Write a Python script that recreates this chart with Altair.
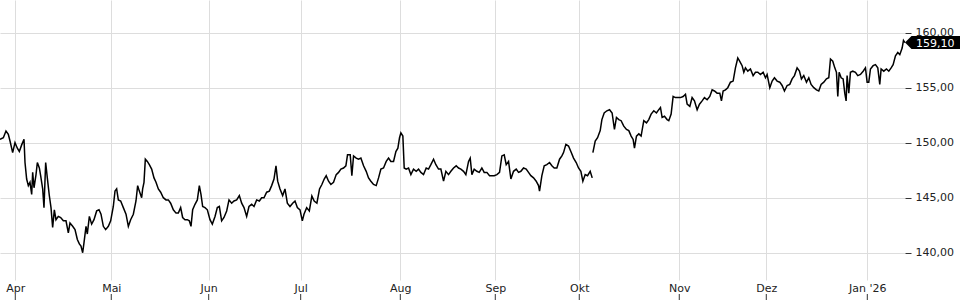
import altair as alt
import pandas as pd

# trading-session index (days since start) and price
t_vals = [
    0.0, 0.77, 1.38, 1.92, 2.31, 2.92, 3.46, 4.0, 4.46, 5.0, 5.54, 5.77, 6.15, 6.54, 6.92, 7.31, 7.54, 7.85,
    8.31, 8.62, 9.08, 9.38, 9.85, 10.15, 10.54, 10.92, 11.38, 11.77, 12.15, 12.54, 12.92, 13.46, 14.0, 14.62,
    15.23, 15.77, 16.15, 16.77, 17.31, 17.85, 18.31, 18.69, 19.08, 19.38, 19.85, 20.15, 20.62, 21.15, 21.69,
    22.31, 22.85, 23.31, 23.85, 24.38, 25.0, 25.54, 26.15, 26.54, 26.92, 27.31, 27.85, 28.46, 29.08, 29.62,
    30.15, 30.77, 31.38, 31.77, 32.15, 32.69, 32.92, 33.23, 33.54, 34.0, 34.46, 35.0, 35.54, 36.0, 36.54,
    37.08, 37.69, 38.31, 38.85, 39.38, 40.0, 40.62, 41.15, 41.69, 42.15, 42.69, 43.23, 43.69, 44.08, 44.46,
    45.0, 45.54, 46.0, 46.38, 46.77, 47.31, 47.85, 48.46, 49.0, 49.62, 50.15, 50.62, 51.15, 51.69, 52.31,
    52.85, 53.46, 54.0, 54.62, 55.23, 55.77, 56.31, 56.92, 57.46, 58.08, 58.62, 59.23, 59.85, 60.38, 60.92,
    61.54, 62.15, 62.69, 63.23, 63.69, 64.08, 64.62, 65.23, 65.77, 66.31, 66.92, 67.54, 68.08, 68.62, 69.23,
    69.77, 70.15, 70.77, 71.38,
    71.97, 72.51, 73.13, 73.74, 74.28, 74.82, 75.28, 75.82, 76.36, 76.97, 77.59, 78.13, 78.67, 79.28, 79.82,
    80.2, 80.82, 81.2, 81.59, 82.2, 82.74, 83.28, 83.9, 84.51, 85.05, 85.59, 86.2, 86.82, 87.36, 87.9, 88.51,
    89.13, 89.67, 90.2, 90.82, 91.36, 91.82, 92.2, 92.51, 92.97, 93.28, 93.74, 94.28, 94.82, 95.43, 96.05,
    96.59, 97.13, 97.74, 98.36, 98.9, 99.43, 100.05, 100.59, 101.2, 101.74, 102.36, 102.9, 103.51, 104.05,
    104.67, 105.28, 105.82, 106.36, 106.97, 107.51, 108.13, 108.51, 108.9, 109.43, 110.05, 110.59, 111.2,
    111.74, 112.36, 112.97, 113.51, 114.05, 114.67, 115.28, 115.82, 116.36, 116.82, 117.36, 117.9, 118.51,
    119.13, 119.67, 120.2, 120.82, 121.43, 121.97, 122.51, 123.13, 123.74, 124.28, 124.51, 125.05, 125.59,
    126.2, 126.82, 127.36, 127.9, 128.51, 129.13, 129.67, 130.05, 130.59, 131.2, 131.74, 132.36, 132.97,
    133.51, 134.05, 134.51, 135.05, 135.59, 136.2, 136.67,
    136.82, 137.36, 137.9, 138.51, 138.9, 139.43, 140.05, 140.67,
    141.26, 141.8, 142.26, 142.8, 143.34, 143.95, 144.57, 145.11, 145.65, 146.11, 146.42, 146.88, 147.42,
    147.95, 148.57, 149.19, 149.72, 150.26, 150.88, 151.49, 152.03, 152.42, 152.8, 153.34, 153.95, 154.34,
    154.88, 155.34, 155.88, 156.42, 157.03, 157.65, 158.19, 158.57, 159.19, 159.72, 160.26, 160.88, 161.42,
    162.03, 162.57, 163.19, 163.8, 164.34, 164.88, 165.49, 166.11, 166.49, 166.88, 167.42, 167.95, 168.57,
    169.19, 169.72, 170.26, 170.72, 171.26, 171.65, 172.03, 172.57, 173.18, 173.8, 174.34, 174.88, 175.49,
    176.11, 176.65, 177.03, 177.65, 178.19, 178.72, 179.34, 179.95, 180.49, 181.03, 181.65, 182.26, 182.8,
    183.34, 183.95, 184.49, 184.95, 185.49, 186.11, 186.65, 187.18, 187.8, 188.42, 188.95, 189.49, 190.11,
    190.72, 191.26, 191.65, 192.18, 192.65, 193.03, 193.34, 193.65, 194.11, 194.57, 194.95, 195.26, 195.49,
    195.88, 196.26, 196.8, 197.42, 197.95, 198.57, 199.19, 199.72, 200.11, 200.49, 200.88, 201.49, 202.03,
    202.57, 203.03, 203.34, 203.95, 204.57, 205.11, 205.65, 206.11, 206.65, 207.19, 207.65, 208.19, 208.5,
    208.85,
]

price = [
    150.3, 150.45, 151.06, 150.76, 150.15, 149.1, 150.0, 149.5, 149.2, 149.8, 150.3, 148.2, 146.7, 146.1, 146.4,
    145.3, 147.3, 145.9, 147.1, 148.2, 147.7, 147.0, 145.8, 144.1, 148.2, 146.8, 145.2, 144.1, 142.3, 143.9,
    143.0, 143.3, 143.2, 142.9, 142.9, 141.8, 142.7, 142.4, 142.1, 141.2, 140.8, 140.6, 140.0, 140.9, 142.4,
    141.7, 143.3, 142.6, 143.0, 143.8, 143.9, 143.5, 142.4, 142.1, 142.4, 142.9, 144.2, 145.6, 145.8, 144.8,
    144.7, 144.1, 143.5, 142.4, 143.0, 143.5, 144.7, 146.1, 145.6, 145.0, 145.8, 146.4, 148.5, 148.3, 148.0,
    147.6, 146.8, 146.4, 145.8, 145.5, 145.0, 144.8, 144.8, 144.5, 143.9, 143.6, 143.6, 144.1, 143.2, 143.0,
    143.0, 142.9, 142.4, 143.9, 144.4, 144.8, 146.1, 145.3, 144.2, 144.1, 143.9, 143.0, 142.6, 143.3, 144.1,
    144.2, 142.9, 143.2, 143.8, 144.8, 144.5, 144.7, 144.8, 145.2, 144.5, 144.1, 143.3, 144.2, 144.4, 144.2,
    144.8, 144.7, 145.0, 145.0, 145.5, 145.6, 146.1, 146.7, 147.9, 146.5, 145.8, 145.2, 145.8, 144.5, 144.2,
    144.5, 144.7, 144.1, 143.9, 142.9, 143.5, 144.1, 143.8,
    145.15, 144.7, 144.5, 145.8, 146.2, 146.7, 147.0, 146.5, 146.2, 146.4, 147.1, 147.3, 147.6, 147.7, 147.9,
    148.9, 148.9, 147.0, 148.8, 148.6, 148.5, 148.6, 147.9, 147.4, 146.8, 146.5, 146.2, 146.1, 146.8, 147.6,
    147.7, 148.3, 148.6, 148.3, 148.3, 149.2, 149.5, 150.45, 150.9, 150.6, 147.7, 147.6, 147.7, 147.1, 147.6,
    147.4, 147.6, 147.3, 147.1, 147.7, 147.6, 148.0, 148.5, 148.0, 147.6, 147.6, 146.5, 147.4, 147.1, 147.4,
    147.7, 147.9, 147.7, 147.6, 147.4, 147.1, 148.3, 148.6, 147.1, 147.6, 147.4, 147.3, 147.7, 147.3, 147.3,
    147.0, 147.0, 147.0, 147.1, 147.3, 148.8, 148.9, 148.0, 148.3, 146.7, 147.4, 147.6, 147.3, 147.4, 147.7,
    147.6, 147.3, 147.0, 146.8, 146.5, 146.1, 145.6, 147.0, 147.9, 148.0, 148.2, 147.9, 147.7, 147.7, 148.5,
    148.8, 149.1, 149.85, 149.7, 149.2, 148.6, 148.2, 147.7, 147.4, 146.5, 147.1, 147.0, 147.4, 146.8,
    149.1, 150.15, 150.45, 151.1, 152.1, 152.7, 152.9, 153.0,
    152.7, 151.2, 152.3, 152.1, 152.0, 151.5, 151.2, 151.1, 150.6, 150.3, 149.5, 150.6, 150.8, 150.6, 152.0,
    151.8, 152.1, 152.6, 152.9, 152.7, 153.0, 153.2, 152.3, 152.4, 152.1, 152.0, 152.6, 154.2, 154.1, 154.1,
    154.1, 154.2, 154.4, 153.5, 153.3, 154.1, 153.8, 153.0, 153.5, 153.8, 154.1, 153.9, 154.2, 154.8, 154.7,
    154.5, 154.5, 153.8, 154.7, 154.8, 155.0, 155.5, 155.6, 156.8, 157.7, 157.4, 157.0, 156.4, 156.8, 156.5,
    156.7, 156.1, 156.4, 156.4, 156.2, 156.4, 155.9, 156.2, 155.0, 155.6, 155.9, 155.6, 155.5, 155.2, 154.7,
    155.2, 155.3, 155.8, 156.1, 156.8, 156.5, 155.8, 156.1, 155.5, 155.9, 155.3, 155.0, 154.8, 154.7, 155.3,
    155.5, 155.8, 155.9, 157.6, 157.4, 156.8, 156.4, 154.2, 156.4, 155.9, 155.8, 154.5, 153.8, 156.1, 154.5,
    156.4, 156.5, 156.4, 156.1, 156.2, 156.5, 156.8, 155.5, 155.5, 156.7, 157.0, 157.1, 156.8, 155.3, 156.7,
    156.5, 156.7, 156.5, 156.8, 157.1, 157.9, 158.2, 158.0, 158.6, 159.3, 159.1,
]

gap_after = 136.7  # weekend gap in early October

month_names = ["Apr", "Mai", "Jun", "Jul", "Aug", "Sep", "Okt", "Nov", "Dez", "Jan '26"]
month_pos = [3.53, 25.68, 48.16, 69.39, 92.38, 114.3, 133.68, 156.76, 176.84, 200.15]
y_ticks = [140, 145, 150, 155, 160]
last_label = "159,10"

df = pd.DataFrame({"t": t_vals, "price": price})
df["seg"] = (df["t"] > gap_after).astype(int)

expr = "''"
for p, n in reversed(list(zip(month_pos, month_names))):
    expr = f"datum.value == {p} ? \"{n}\" : ({expr})"

FONT = "DejaVu Sans"
x_scale = alt.Scale(domain=[0, 208.85], nice=False, zero=False)
y_scale = alt.Scale(domain=[137.52, 162.97], nice=False, zero=False)

x_enc = alt.X(
    "t:Q", scale=x_scale, title=None,
    axis=alt.Axis(values=month_pos, labelExpr=expr, grid=True, gridColor="#dddddd", gridWidth=1,
                  domain=False, ticks=False, labelPadding=2, labelFontSize=11, labelFont=FONT,
                  labelColor="#222222", labelAngle=0, labelFlush=False, labelOverlap=False, title=None),
)
y_enc = alt.Y(
    "price:Q", scale=y_scale, title=None,
    axis=alt.Axis(orient="right", values=y_ticks,
                  labelExpr="replace(format(datum.value, '.2f'), '.', ',')",
                  grid=True, gridColor="#dddddd", gridWidth=1, domain=False, tickSize=6,
                  tickColor="#333333", labelPadding=4, labelFontSize=11, labelFont=FONT,
                  labelColor="#222222", title=None),
)

line = alt.Chart(df).mark_line(color="black", strokeWidth=1.5).encode(
    x=x_enc, y=y_enc, detail="seg:N"
)

mdf = pd.DataFrame({"t": month_pos})
bottom_ticks = alt.Chart(mdf).mark_rule(color="#333333", strokeWidth=1).encode(
    x=x_enc, y=alt.value(294), y2=alt.value(300)
)

ldf = pd.DataFrame({"t": [t_vals[-1]], "price": [price[-1]], "label": [last_label]})
badge = alt.Chart(ldf).mark_point(
    shape="M0,0L1,-1L8.5,-1L8.5,1L1,1Z", size=169, filled=True, color="black",
    opacity=1, strokeWidth=0
).encode(x=x_enc, y=y_enc)
badge_text = alt.Chart(ldf).mark_text(
    align="left", baseline="middle", dx=11, dy=1, color="white", fontSize=11, font=FONT
).encode(x=x_enc, y=y_enc, text="label:N")

chart = alt.layer(line, bottom_ticks, badge, badge_text).properties(
    width=905, height=280,
    autosize=alt.AutoSizeParams(type="none"),
    padding={"left": 0, "top": 0, "right": 55, "bottom": 20},
    background="white",
).configure_view(strokeWidth=0)

chart.save("out.html", embed_options={"renderer": "svg", "actions": False})
